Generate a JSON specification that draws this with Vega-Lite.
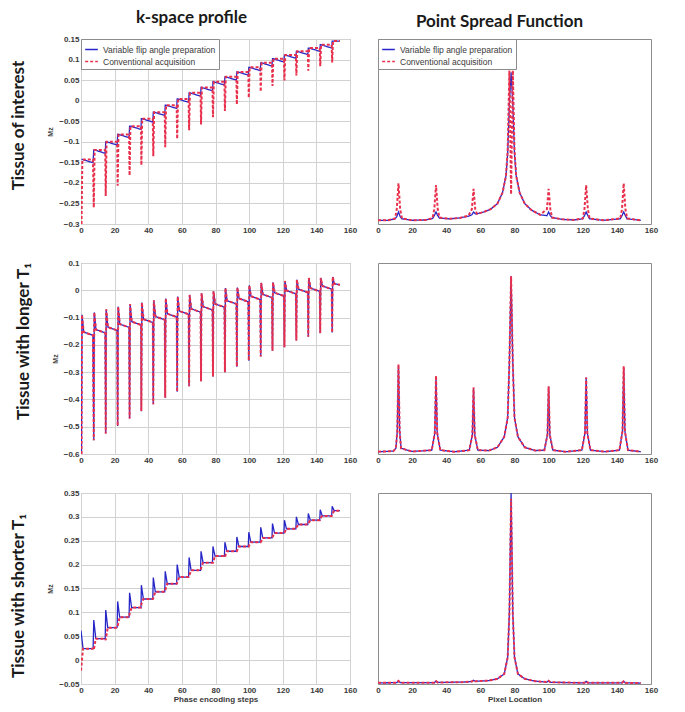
{
  "$schema": "https://vega.github.io/schema/vega-lite/v6.json",
  "background": "white",
  "padding": {"left": 10, "top": 8, "right": 0, "bottom": 0},
  "config": {
    "view": {"stroke": "#8c8c8c", "strokeWidth": 1},
    "axis": {"labelFont": "Liberation Sans", "labelFontSize": 8, "labelFontWeight": "bold", "labelColor": "#3a3a3a", "titleFont": "Liberation Sans", "titleFontSize": 8, "titleFontWeight": "bold", "titleColor": "#3a3a3a", "domain": false, "ticks": false, "gridColor": "#d2d2d2", "gridWidth": 1, "labelFlush": false, "labelOverlap": false, "labelPadding": 2},
    "title": {"font": "Lato", "fontSize": 17, "fontWeight": "bold", "color": "#1a1a1a"}
  },
  "datasets": {
    "k1": [
      {"x":0.3,"v":-0.143,"c":-0.3},{"x":0.8,"v":-0.143,"c":-0.143},{"x":7.1,"v":-0.151,"c":-0.143},
      {"x":7.6,"v":-0.12,"c":-0.26},{"x":8.1,"v":-0.12,"c":-0.12},{"x":14.4,"v":-0.128,"c":-0.12},
      {"x":14.7,"v":-0.1,"c":-0.232},{"x":15.2,"v":-0.1,"c":-0.1},{"x":21.5,"v":-0.108,"c":-0.1},
      {"x":21.8,"v":-0.082,"c":-0.207},{"x":22.3,"v":-0.082,"c":-0.082},{"x":28.6,"v":-0.09,"c":-0.082},
      {"x":28.9,"v":-0.062,"c":-0.182},{"x":29.4,"v":-0.062,"c":-0.062},{"x":35.7,"v":-0.07,"c":-0.062},
      {"x":35.9,"v":-0.044,"c":-0.157},{"x":36.4,"v":-0.044,"c":-0.044},{"x":42.7,"v":-0.052,"c":-0.044},
      {"x":43.0,"v":-0.028,"c":-0.135},{"x":43.5,"v":-0.028,"c":-0.028},{"x":49.8,"v":-0.036,"c":-0.028},
      {"x":50.1,"v":-0.011,"c":-0.113},{"x":50.6,"v":-0.011,"c":-0.011},{"x":56.9,"v":-0.019,"c":-0.011},
      {"x":57.2,"v":0.004,"c":-0.093},{"x":57.7,"v":0.004,"c":0.004},{"x":64.0,"v":-0.004,"c":0.004},
      {"x":64.3,"v":0.019,"c":-0.072},{"x":64.8,"v":0.019,"c":0.019},{"x":71.1,"v":0.011,"c":0.019},
      {"x":71.4,"v":0.032,"c":-0.058},{"x":71.9,"v":0.032,"c":0.032},{"x":78.2,"v":0.024,"c":0.032},
      {"x":78.5,"v":0.046,"c":-0.04},{"x":79.0,"v":0.046,"c":0.046},{"x":85.3,"v":0.038,"c":0.046},
      {"x":85.6,"v":0.058,"c":-0.025},{"x":86.1,"v":0.058,"c":0.058},{"x":92.4,"v":0.05,"c":0.058},
      {"x":92.7,"v":0.07,"c":-0.009},{"x":93.2,"v":0.07,"c":0.07},{"x":99.5,"v":0.062,"c":0.07},
      {"x":99.8,"v":0.081,"c":0.007},{"x":100.3,"v":0.081,"c":0.081},{"x":106.6,"v":0.073,"c":0.081},
      {"x":106.9,"v":0.092,"c":0.022},{"x":107.4,"v":0.092,"c":0.092},{"x":113.6,"v":0.084,"c":0.092},
      {"x":113.9,"v":0.102,"c":0.036},{"x":114.4,"v":0.102,"c":0.102},{"x":120.7,"v":0.094,"c":0.102},
      {"x":121.0,"v":0.111,"c":0.049},{"x":121.5,"v":0.111,"c":0.111},{"x":127.8,"v":0.103,"c":0.111},
      {"x":128.1,"v":0.12,"c":0.061},{"x":128.6,"v":0.12,"c":0.12},{"x":134.9,"v":0.112,"c":0.12},
      {"x":135.2,"v":0.128,"c":0.073},{"x":135.7,"v":0.128,"c":0.128},{"x":142.0,"v":0.12,"c":0.128},
      {"x":142.3,"v":0.136,"c":0.084},{"x":142.8,"v":0.136,"c":0.136},{"x":149.1,"v":0.128,"c":0.136},
      {"x":149.4,"v":0.145,"c":0.093},{"x":149.9,"v":0.145,"c":0.145},{"x":154.0,"v":0.145,"c":0.145}
    ],
    "k2": [
      {"x":0.3,"v":-0.6,"c":-0.6},{"x":0.6,"v":-0.09,"c":-0.09},{"x":1.6,"v":-0.153,"c":-0.153},{"x":7.1,"v":-0.165,"c":-0.165},
      {"x":7.6,"v":-0.55,"c":-0.55},{"x":7.9,"v":-0.081,"c":-0.081},{"x":8.9,"v":-0.144,"c":-0.144},{"x":14.4,"v":-0.156,"c":-0.156},
      {"x":14.7,"v":-0.525,"c":-0.525},{"x":15.0,"v":-0.07,"c":-0.07},{"x":16.0,"v":-0.135,"c":-0.135},{"x":21.5,"v":-0.147,"c":-0.147},
      {"x":21.8,"v":-0.497,"c":-0.497},{"x":22.1,"v":-0.06,"c":-0.06},{"x":23.1,"v":-0.124,"c":-0.124},{"x":28.6,"v":-0.136,"c":-0.136},
      {"x":28.9,"v":-0.47,"c":-0.47},{"x":29.2,"v":-0.051,"c":-0.051},{"x":30.2,"v":-0.115,"c":-0.115},{"x":35.7,"v":-0.127,"c":-0.127},
      {"x":35.9,"v":-0.443,"c":-0.443},{"x":36.2,"v":-0.045,"c":-0.045},{"x":37.2,"v":-0.106,"c":-0.106},{"x":42.7,"v":-0.118,"c":-0.118},
      {"x":43.0,"v":-0.418,"c":-0.418},{"x":43.3,"v":-0.037,"c":-0.037},{"x":44.3,"v":-0.096,"c":-0.096},{"x":49.8,"v":-0.108,"c":-0.108},
      {"x":50.1,"v":-0.394,"c":-0.394},{"x":50.4,"v":-0.03,"c":-0.03},{"x":51.4,"v":-0.086,"c":-0.086},{"x":56.9,"v":-0.098,"c":-0.098},
      {"x":57.2,"v":-0.372,"c":-0.372},{"x":57.5,"v":-0.023,"c":-0.023},{"x":58.5,"v":-0.076,"c":-0.076},{"x":64.0,"v":-0.088,"c":-0.088},
      {"x":64.3,"v":-0.352,"c":-0.352},{"x":64.6,"v":-0.017,"c":-0.017},{"x":65.6,"v":-0.068,"c":-0.068},{"x":71.1,"v":-0.08,"c":-0.08},
      {"x":71.4,"v":-0.333,"c":-0.333},{"x":71.7,"v":-0.011,"c":-0.011},{"x":72.7,"v":-0.06,"c":-0.06},{"x":78.2,"v":-0.072,"c":-0.072},
      {"x":78.5,"v":-0.316,"c":-0.316},{"x":78.8,"v":-0.004,"c":-0.004},{"x":79.8,"v":-0.05,"c":-0.05},{"x":85.3,"v":-0.062,"c":-0.062},
      {"x":85.6,"v":-0.3,"c":-0.3},{"x":85.9,"v":0.008,"c":0.008},{"x":86.9,"v":-0.038,"c":-0.038},{"x":92.4,"v":-0.05,"c":-0.05},
      {"x":92.7,"v":-0.28,"c":-0.28},{"x":93.0,"v":0.01,"c":0.01},{"x":94.0,"v":-0.03,"c":-0.03},{"x":99.5,"v":-0.042,"c":-0.042},
      {"x":99.8,"v":-0.258,"c":-0.258},{"x":100.1,"v":0.018,"c":0.018},{"x":101.1,"v":-0.022,"c":-0.022},{"x":106.6,"v":-0.034,"c":-0.034},
      {"x":106.9,"v":-0.243,"c":-0.243},{"x":107.2,"v":0.027,"c":0.027},{"x":108.2,"v":-0.015,"c":-0.015},{"x":113.6,"v":-0.027,"c":-0.027},
      {"x":113.9,"v":-0.222,"c":-0.222},{"x":114.2,"v":0.029,"c":0.029},{"x":115.2,"v":-0.009,"c":-0.009},{"x":120.7,"v":-0.021,"c":-0.021},
      {"x":121.0,"v":-0.209,"c":-0.209},{"x":121.3,"v":0.034,"c":0.034},{"x":122.3,"v":-0.001,"c":-0.001},{"x":127.8,"v":-0.013,"c":-0.013},
      {"x":128.1,"v":-0.184,"c":-0.184},{"x":128.4,"v":0.039,"c":0.039},{"x":129.4,"v":0.004,"c":0.004},{"x":134.9,"v":-0.008,"c":-0.008},
      {"x":135.2,"v":-0.17,"c":-0.17},{"x":135.5,"v":0.045,"c":0.045},{"x":136.5,"v":0.008,"c":0.008},{"x":142.0,"v":-0.004,"c":-0.004},
      {"x":142.3,"v":-0.157,"c":-0.157},{"x":142.6,"v":0.045,"c":0.045},{"x":143.6,"v":0.016,"c":0.016},{"x":149.1,"v":0.004,"c":0.004},
      {"x":149.4,"v":-0.155,"c":-0.155},{"x":149.7,"v":0.049,"c":0.049},{"x":150.7,"v":0.024,"c":0.024},{"x":154.0,"v":0.02,"c":0.02}
    ],
    "k3": [
      {"x":0,"v":0.062,"c":-0.022},{"x":1.2,"v":0.024,"c":0.024},{"x":7.2,"v":0.024,"c":0.024},
      {"x":7.6,"v":0.084,"c":0.021},{"x":8.8,"v":0.045,"c":0.045},{"x":14.4,"v":0.045,"c":0.045},
      {"x":14.7,"v":0.105,"c":0.042},{"x":15.9,"v":0.068,"c":0.068},{"x":21.5,"v":0.068,"c":0.068},
      {"x":21.8,"v":0.123,"c":0.072},{"x":23.0,"v":0.09,"c":0.09},{"x":28.6,"v":0.09,"c":0.09},
      {"x":28.9,"v":0.141,"c":0.097},{"x":30.1,"v":0.11,"c":0.11},{"x":35.7,"v":0.11,"c":0.11},
      {"x":35.9,"v":0.157,"c":0.117},{"x":37.1,"v":0.128,"c":0.128},{"x":42.7,"v":0.128,"c":0.128},
      {"x":43.0,"v":0.173,"c":0.13},{"x":44.2,"v":0.143,"c":0.143},{"x":49.8,"v":0.143,"c":0.143},
      {"x":50.1,"v":0.186,"c":0.146},{"x":51.3,"v":0.16,"c":0.16},{"x":56.9,"v":0.16,"c":0.16},
      {"x":57.2,"v":0.2,"c":0.162},{"x":58.4,"v":0.174,"c":0.174},{"x":64.0,"v":0.174,"c":0.174},
      {"x":64.3,"v":0.215,"c":0.176},{"x":65.5,"v":0.188,"c":0.188},{"x":71.1,"v":0.188,"c":0.188},
      {"x":71.4,"v":0.228,"c":0.192},{"x":72.6,"v":0.204,"c":0.204},{"x":78.2,"v":0.204,"c":0.204},
      {"x":78.5,"v":0.238,"c":0.204},{"x":79.7,"v":0.218,"c":0.218},{"x":85.3,"v":0.218,"c":0.218},
      {"x":85.6,"v":0.247,"c":0.216},{"x":86.8,"v":0.228,"c":0.228},{"x":92.4,"v":0.228,"c":0.228},
      {"x":92.7,"v":0.258,"c":0.228},{"x":93.9,"v":0.238,"c":0.238},{"x":99.5,"v":0.238,"c":0.238},
      {"x":99.8,"v":0.268,"c":0.238},{"x":101.0,"v":0.247,"c":0.247},{"x":106.6,"v":0.247,"c":0.247},
      {"x":106.9,"v":0.278,"c":0.247},{"x":108.1,"v":0.256,"c":0.256},{"x":113.6,"v":0.256,"c":0.256},
      {"x":113.9,"v":0.286,"c":0.258},{"x":115.1,"v":0.266,"c":0.266},{"x":120.7,"v":0.266,"c":0.266},
      {"x":121.0,"v":0.293,"c":0.267},{"x":122.2,"v":0.275,"c":0.275},{"x":127.8,"v":0.275,"c":0.275},
      {"x":128.1,"v":0.3,"c":0.278},{"x":129.3,"v":0.284,"c":0.284},{"x":134.9,"v":0.284,"c":0.284},
      {"x":135.2,"v":0.307,"c":0.286},{"x":136.4,"v":0.293,"c":0.293},{"x":142.0,"v":0.293,"c":0.293},
      {"x":142.3,"v":0.315,"c":0.297},{"x":143.5,"v":0.302,"c":0.302},{"x":149.1,"v":0.302,"c":0.302},
      {"x":149.4,"v":0.322,"c":0.305},{"x":150.6,"v":0.313,"c":0.313},{"x":154.0,"v":0.313,"c":0.313}
    ],
    "p1": [
      {"x":0,"v":0.02,"c":0.02},{"x":6,"v":0.02,"c":0.02},{"x":10,"v":0.028,"c":0.03},{"x":11,"v":0.04,"c":0.08},{"x":12,"v":0.065,"c":0.22},{"x":13,"v":0.04,"c":0.08},{"x":14,"v":0.028,"c":0.03},
      {"x":20,"v":0.02,"c":0.02},{"x":28,"v":0.022,"c":0.022},{"x":32,"v":0.03,"c":0.032},{"x":33,"v":0.045,"c":0.08},{"x":34,"v":0.065,"c":0.21},{"x":35,"v":0.045,"c":0.08},{"x":36,"v":0.032,"c":0.035},
      {"x":42,"v":0.028,"c":0.028},{"x":48,"v":0.033,"c":0.033},{"x":53,"v":0.042,"c":0.045},{"x":55,"v":0.05,"c":0.08},{"x":56,"v":0.065,"c":0.19},{"x":57,"v":0.055,"c":0.08},{"x":58,"v":0.055,"c":0.055},
      {"x":62,"v":0.065,"c":0.065},{"x":66,"v":0.08,"c":0.08},{"x":70,"v":0.11,"c":0.11},{"x":73,"v":0.17,"c":0.17},{"x":75,"v":0.26,"c":0.26},{"x":76,"v":0.38,"c":0.4},{"x":77,"v":0.65,"c":0.83},{"x":78,"v":0.82,"c":0.16},{"x":79,"v":0.65,"c":0.83},{"x":80,"v":0.38,"c":0.4},{"x":81,"v":0.26,"c":0.26},{"x":83,"v":0.17,"c":0.17},{"x":86,"v":0.11,"c":0.11},
      {"x":90,"v":0.075,"c":0.075},{"x":95,"v":0.05,"c":0.05},{"x":99,"v":0.045,"c":0.08},{"x":100,"v":0.065,"c":0.19},{"x":101,"v":0.045,"c":0.08},{"x":102,"v":0.035,"c":0.035},
      {"x":108,"v":0.025,"c":0.025},{"x":115,"v":0.022,"c":0.022},{"x":120,"v":0.028,"c":0.03},{"x":121,"v":0.045,"c":0.08},{"x":122,"v":0.065,"c":0.21},{"x":123,"v":0.045,"c":0.08},{"x":124,"v":0.028,"c":0.03},
      {"x":132,"v":0.02,"c":0.02},{"x":142,"v":0.028,"c":0.03},{"x":143,"v":0.045,"c":0.08},{"x":144,"v":0.065,"c":0.22},{"x":145,"v":0.045,"c":0.08},{"x":146,"v":0.028,"c":0.03},{"x":154,"v":0.02,"c":0.02}
    ],
    "p2": [
      {"x":0,"v":0.012,"c":0.012},{"x":9,"v":0.015,"c":0.015},{"x":10.5,"v":0.03,"c":0.03},{"x":11.3,"v":0.12,"c":0.12},{"x":12,"v":0.46,"c":0.47},{"x":12.7,"v":0.12,"c":0.12},{"x":13.5,"v":0.03,"c":0.03},
      {"x":20,"v":0.013,"c":0.013},{"x":31.5,"v":0.02,"c":0.02},{"x":33.3,"v":0.11,"c":0.11},{"x":34,"v":0.4,"c":0.41},{"x":34.7,"v":0.11,"c":0.11},{"x":36.5,"v":0.02,"c":0.02},
      {"x":45,"v":0.012,"c":0.012},{"x":53.5,"v":0.02,"c":0.02},{"x":55.3,"v":0.1,"c":0.1},{"x":56,"v":0.34,"c":0.35},{"x":56.7,"v":0.1,"c":0.1},{"x":58.5,"v":0.02,"c":0.02},
      {"x":65,"v":0.018,"c":0.018},{"x":70,"v":0.035,"c":0.035},{"x":74,"v":0.09,"c":0.09},{"x":76,"v":0.19,"c":0.19},{"x":77,"v":0.48,"c":0.48},{"x":78,"v":0.93,"c":0.93},{"x":79,"v":0.48,"c":0.48},{"x":80,"v":0.19,"c":0.19},{"x":82,"v":0.09,"c":0.09},{"x":86,"v":0.035,"c":0.035},
      {"x":92,"v":0.018,"c":0.018},{"x":97.5,"v":0.02,"c":0.02},{"x":99.3,"v":0.1,"c":0.1},{"x":100,"v":0.35,"c":0.355},{"x":100.7,"v":0.1,"c":0.1},{"x":102.5,"v":0.02,"c":0.02},
      {"x":110,"v":0.012,"c":0.012},{"x":119.5,"v":0.02,"c":0.02},{"x":121.3,"v":0.11,"c":0.11},{"x":122,"v":0.4,"c":0.4},{"x":122.7,"v":0.11,"c":0.11},{"x":124.5,"v":0.02,"c":0.02},
      {"x":133,"v":0.012,"c":0.012},{"x":141.5,"v":0.02,"c":0.02},{"x":143.3,"v":0.12,"c":0.12},{"x":144,"v":0.45,"c":0.46},{"x":144.7,"v":0.12,"c":0.12},{"x":146.5,"v":0.02,"c":0.02},{"x":154,"v":0.012,"c":0.012}
    ],
    "p3": [
      {"x":0,"v":0.006,"c":0.006},{"x":11,"v":0.007,"c":0.007},{"x":12,"v":0.016,"c":0.016},{"x":13,"v":0.007,"c":0.007},
      {"x":33,"v":0.007,"c":0.007},{"x":34,"v":0.015,"c":0.015},{"x":35,"v":0.008,"c":0.008},
      {"x":50,"v":0.01,"c":0.01},{"x":55,"v":0.013,"c":0.013},{"x":56,"v":0.02,"c":0.02},{"x":57,"v":0.014,"c":0.014},
      {"x":65,"v":0.018,"c":0.018},{"x":70,"v":0.027,"c":0.027},{"x":74,"v":0.053,"c":0.053},{"x":76,"v":0.14,"c":0.14},{"x":77,"v":0.37,"c":0.37},{"x":78,"v":1.0,"c":0.97},{"x":79,"v":0.37,"c":0.37},{"x":80,"v":0.14,"c":0.14},{"x":82,"v":0.053,"c":0.053},{"x":86,"v":0.027,"c":0.027},
      {"x":92,"v":0.015,"c":0.015},{"x":99,"v":0.01,"c":0.01},{"x":100,"v":0.017,"c":0.017},{"x":101,"v":0.009,"c":0.009},
      {"x":121,"v":0.006,"c":0.006},{"x":122,"v":0.014,"c":0.014},{"x":123,"v":0.006,"c":0.006},
      {"x":143,"v":0.006,"c":0.006},{"x":144,"v":0.014,"c":0.014},{"x":145,"v":0.006,"c":0.006},{"x":154,"v":0.005,"c":0.005}
    ]
  },
  "vconcat": [
    {
      "title": {"text": "Tissue of interest", "orient": "left", "anchor": "middle", "frame": "bounds", "offset": 18, "dx": -4},
      "hconcat": [
        {
          "width": 269, "height": 185,
          "data": {"name": "k1"},
          "transform": [{"fold": ["v", "c"], "as": ["key", "y"]}],
          "title": {"text": "k-space profile", "anchor": "middle", "frame": "group", "dx": -24, "offset": 8},
          "encoding": {
            "x": {"field": "x", "type": "quantitative", "scale": {"domain": [0, 160], "nice": false}, "axis": {"values": [0,20,40,60,80,100,120,140,160], "grid": true, "title": null, "format": "d"}},
            "y": {"field": "y", "type": "quantitative", "scale": {"domain": [-0.3, 0.15], "nice": false, "zero": false}, "axis": {"values": [-0.3,-0.25,-0.2,-0.15,-0.1,-0.05,0,0.05,0.1,0.15], "grid": true, "title": "Mz", "titleFontSize": 7, "titlePadding": 5, "format": "~g"}},
            "color": {"field": "key", "type": "nominal", "scale": {"domain": ["v", "c"], "range": ["#2727c9", "#e8304c"]}, "legend": {"title": null, "orient": "top-left", "offset": 0, "padding": 3, "fillColor": "white", "strokeColor": "#8c8c8c", "labelFont": "Liberation Sans", "labelFontSize": 8.5, "labelColor": "#3a3a3a", "symbolType": "stroke", "symbolSize": 160, "symbolStrokeWidth": 1.5, "rowPadding": 0, "labelExpr": "datum.value == 'v' ? 'Variable flip angle preparation' : 'Conventional acquisition'"}},
            "strokeDash": {"field": "key", "type": "nominal", "scale": {"domain": ["v", "c"], "range": [[1, 0], [3, 2]]}, "legend": {"title": null, "orient": "top-left", "offset": 0, "padding": 3, "fillColor": "white", "strokeColor": "#8c8c8c", "labelFont": "Liberation Sans", "labelFontSize": 8.5, "labelColor": "#3a3a3a", "symbolType": "stroke", "symbolSize": 160, "symbolStrokeWidth": 1.5, "rowPadding": 0, "labelExpr": "datum.value == 'v' ? 'Variable flip angle preparation' : 'Conventional acquisition'"}}
          },
          "layer": [
            {"transform": [{"filter": "datum.key == 'v'"}], "mark": {"type": "line", "strokeWidth": 1.3, "clip": true}},
            {"transform": [{"filter": "datum.key == 'c'"}], "mark": {"type": "line", "strokeWidth": 2, "clip": true}}
          ]
        },
        {
          "width": 273, "height": 185,
          "data": {"name": "p1"},
          "transform": [{"fold": ["v", "c"], "as": ["key", "y"]}],
          "title": {"text": "Point Spread Function", "anchor": "middle", "frame": "group", "dx": -15, "offset": 8},
          "encoding": {
            "x": {"field": "x", "type": "quantitative", "scale": {"domain": [0, 160], "nice": false}, "axis": {"values": [0,20,40,60,80,100,120,140,160], "grid": false, "title": null, "format": "d"}},
            "y": {"field": "y", "type": "quantitative", "scale": {"domain": [0, 1], "nice": false}, "axis": null},
            "color": {"field": "key", "type": "nominal", "scale": {"domain": ["v", "c"], "range": ["#2727c9", "#e8304c"]}, "legend": {"title": null, "orient": "top-left", "offset": 0, "padding": 3, "fillColor": "white", "strokeColor": "#8c8c8c", "labelFont": "Liberation Sans", "labelFontSize": 8.5, "labelColor": "#3a3a3a", "symbolType": "stroke", "symbolSize": 160, "symbolStrokeWidth": 1.5, "rowPadding": 0, "labelExpr": "datum.value == 'v' ? 'Variable flip angle preparation' : 'Conventional acquisition'"}},
            "strokeDash": {"field": "key", "type": "nominal", "scale": {"domain": ["v", "c"], "range": [[1, 0], [3, 2]]}, "legend": {"title": null, "orient": "top-left", "offset": 0, "padding": 3, "fillColor": "white", "strokeColor": "#8c8c8c", "labelFont": "Liberation Sans", "labelFontSize": 8.5, "labelColor": "#3a3a3a", "symbolType": "stroke", "symbolSize": 160, "symbolStrokeWidth": 1.5, "rowPadding": 0, "labelExpr": "datum.value == 'v' ? 'Variable flip angle preparation' : 'Conventional acquisition'"}}
          },
          "layer": [
            {"transform": [{"filter": "datum.key == 'v'"}], "mark": {"type": "line", "strokeWidth": 1.3, "clip": true}},
            {"transform": [{"filter": "datum.key == 'c'"}], "mark": {"type": "line", "strokeWidth": 2, "clip": true}}
          ]
        }
      ],
      "spacing": 17,
      "resolve": {"scale": {"x": "independent", "y": "independent"}, "legend": {"color": "independent", "strokeDash": "independent"}}
    },
    {
      "title": {"text": "Tissue with longer T₁", "orient": "left", "anchor": "middle", "frame": "bounds", "offset": 18, "dx": 20},
      "hconcat": [
        {
          "width": 269, "height": 191,
          "data": {"name": "k2"},
          "transform": [{"fold": ["v", "c"], "as": ["key", "y"]}],
          "encoding": {
            "x": {"field": "x", "type": "quantitative", "scale": {"domain": [0, 160], "nice": false}, "axis": {"values": [0,20,40,60,80,100,120,140,160], "grid": true, "title": null, "format": "d"}},
            "y": {"field": "y", "type": "quantitative", "scale": {"domain": [-0.6, 0.1], "nice": false, "zero": false}, "axis": {"values": [-0.6,-0.5,-0.4,-0.3,-0.2,-0.1,0,0.1], "grid": true, "title": "Mz", "titleFontSize": 7, "titlePadding": 5, "format": "~g"}},
            "color": {"field": "key", "type": "nominal", "scale": {"domain": ["v", "c"], "range": ["#2727c9", "#e8304c"]}, "legend": null},
            "strokeDash": {"field": "key", "type": "nominal", "scale": {"domain": ["v", "c"], "range": [[1, 0], [3, 2]]}, "legend": null}
          },
          "layer": [
            {"transform": [{"filter": "datum.key == 'v'"}], "mark": {"type": "line", "strokeWidth": 1.3, "clip": true}},
            {"transform": [{"filter": "datum.key == 'c'"}], "mark": {"type": "line", "strokeWidth": 2, "clip": true}}
          ]
        },
        {
          "width": 273, "height": 191,
          "data": {"name": "p2"},
          "transform": [{"fold": ["v", "c"], "as": ["key", "y"]}],
          "encoding": {
            "x": {"field": "x", "type": "quantitative", "scale": {"domain": [0, 160], "nice": false}, "axis": {"values": [0,20,40,60,80,100,120,140,160], "grid": false, "title": null, "format": "d"}},
            "y": {"field": "y", "type": "quantitative", "scale": {"domain": [0, 1], "nice": false}, "axis": null},
            "color": {"field": "key", "type": "nominal", "scale": {"domain": ["v", "c"], "range": ["#2727c9", "#e8304c"]}, "legend": null},
            "strokeDash": {"field": "key", "type": "nominal", "scale": {"domain": ["v", "c"], "range": [[1, 0], [3, 2]]}, "legend": null}
          },
          "layer": [
            {"transform": [{"filter": "datum.key == 'v'"}], "mark": {"type": "line", "strokeWidth": 1.3, "clip": true}},
            {"transform": [{"filter": "datum.key == 'c'"}], "mark": {"type": "line", "strokeWidth": 2, "clip": true}}
          ]
        }
      ],
      "spacing": 17,
      "resolve": {"scale": {"x": "independent", "y": "independent"}, "legend": {"color": "independent", "strokeDash": "independent"}}
    },
    {
      "title": {"text": "Tissue with shorter T₁", "orient": "left", "anchor": "middle", "frame": "bounds", "offset": 18},
      "hconcat": [
        {
          "width": 269, "height": 191,
          "data": {"name": "k3"},
          "transform": [{"fold": ["v", "c"], "as": ["key", "y"]}],
          "encoding": {
            "x": {"field": "x", "type": "quantitative", "scale": {"domain": [0, 160], "nice": false}, "axis": {"values": [0,20,40,60,80,100,120,140,160], "grid": true, "title": "Phase encoding steps", "titlePadding": 1, "format": "d"}},
            "y": {"field": "y", "type": "quantitative", "scale": {"domain": [-0.05, 0.35], "nice": false, "zero": false}, "axis": {"values": [-0.05,0,0.05,0.1,0.15,0.2,0.25,0.3,0.35], "grid": true, "title": "Mz", "titleFontSize": 7, "titlePadding": 5, "format": "~g"}},
            "color": {"field": "key", "type": "nominal", "scale": {"domain": ["v", "c"], "range": ["#2727c9", "#e8304c"]}, "legend": null},
            "strokeDash": {"field": "key", "type": "nominal", "scale": {"domain": ["v", "c"], "range": [[1, 0], [3, 2]]}, "legend": null}
          },
          "layer": [
            {"transform": [{"filter": "datum.key == 'v'"}], "mark": {"type": "line", "strokeWidth": 1.3, "clip": true}},
            {"transform": [{"filter": "datum.key == 'c'"}], "mark": {"type": "line", "strokeWidth": 2, "clip": true}}
          ]
        },
        {
          "width": 273, "height": 191,
          "data": {"name": "p3"},
          "transform": [{"fold": ["v", "c"], "as": ["key", "y"]}],
          "encoding": {
            "x": {"field": "x", "type": "quantitative", "scale": {"domain": [0, 160], "nice": false}, "axis": {"values": [0,20,40,60,80,100,120,140,160], "grid": false, "title": "Pixel Location", "titlePadding": 1, "format": "d"}},
            "y": {"field": "y", "type": "quantitative", "scale": {"domain": [0, 1], "nice": false}, "axis": null},
            "color": {"field": "key", "type": "nominal", "scale": {"domain": ["v", "c"], "range": ["#2727c9", "#e8304c"]}, "legend": null},
            "strokeDash": {"field": "key", "type": "nominal", "scale": {"domain": ["v", "c"], "range": [[1, 0], [3, 2]]}, "legend": null}
          },
          "layer": [
            {"transform": [{"filter": "datum.key == 'v'"}], "mark": {"type": "line", "strokeWidth": 1.3, "clip": true}},
            {"transform": [{"filter": "datum.key == 'c'"}], "mark": {"type": "line", "strokeWidth": 2, "clip": true}}
          ]
        }
      ],
      "spacing": 17,
      "resolve": {"scale": {"x": "independent", "y": "independent"}, "legend": {"color": "independent", "strokeDash": "independent"}}
    }
  ],
  "spacing": 23,
  "resolve": {"scale": {"x": "independent", "y": "independent"}, "legend": {"color": "independent", "strokeDash": "independent"}}
}
